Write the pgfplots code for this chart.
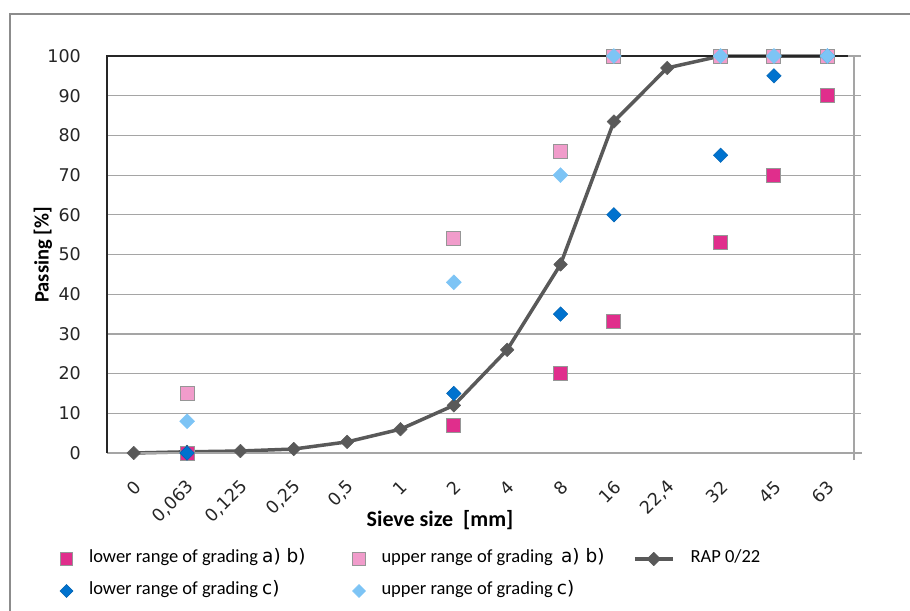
\documentclass[border=0pt]{standalone}
\usepackage{pgfplots}
\pgfplotsset{compat=1.18}
\usepackage{pgfplotstable}
\usepackage{fontspec}
\setmainfont{Carlito}
\newfontfamily\dejavu{DejaVu Sans}

\definecolor{cmag}{RGB}{224,46,140}
\definecolor{cpink}{RGB}{241,156,203}
\definecolor{cblue}{RGB}{0,114,206}
\definecolor{clblue}{RGB}{125,196,245}
\definecolor{crap}{RGB}{89,89,89}
\definecolor{cgrid}{RGB}{165,165,165}
\definecolor{cbord}{RGB}{150,150,150}
\definecolor{cframe}{RGB}{140,140,140}

\pgfdeclareplotmark{ediamond*}{%
  \pgfpathmoveto{\pgfqpoint{0pt}{\pgfplotmarksize}}%
  \pgfpathlineto{\pgfqpoint{\pgfplotmarksize}{0pt}}%
  \pgfpathlineto{\pgfqpoint{0pt}{-\pgfplotmarksize}}%
  \pgfpathlineto{\pgfqpoint{-\pgfplotmarksize}{0pt}}%
  \pgfpathclose
  \pgfusepathqfillstroke}

\pgfplotstableread{
x y
1 0
6 7
8 20
9 33
11 53
12 70
13 90
}\lowerab
\pgfplotstableread{
x y
1 15
6 54
8 76
9 100
11 100
12 100
13 100
}\upperab
\pgfplotstableread{
x y
1 0
6 15
8 35
9 60
11 75
12 95
13 100
}\lowerc
\pgfplotstableread{
x y
1 8
6 43
8 70
9 100
11 100
12 100
13 100
}\upperc
\pgfplotstableread{
x y
0 0
1 0.3
2 0.5
3 1
4 2.8
5 6
6 12
7 26
8 47.5
9 83.5
10 97
11 100
12 100
13 100
}\rap

\pgfplotsset{
  sqlegend/.style={legend image code/.code={\path[draw=none, fill=none] (-6bp,-6bp) rectangle (6bp,6bp);\draw[##1, mark size=6.2bp] plot coordinates {(0bp,0bp)};}},
  dmlegend/.style={legend image code/.code={\path[draw=none, fill=none] (-6bp,-6bp) rectangle (6bp,6bp);\draw[##1, mark size=6.5bp] plot coordinates {(0bp,0bp)};}},
  raplegend/.style={legend image code/.code={\draw[mark repeat=2,mark phase=2,##1] plot coordinates {(0bp,0bp) (19bp,0bp) (38bp,0bp)};}},
  rapstyle/.style={color=crap, line width=3.5bp, line join=round, mark=ediamond*, mark size=6.8bp, mark options={fill=crap, draw=crap, line width=0.5bp}},
}

\begin{document}
\begin{tikzpicture}
\useasboundingbox (0,0) rectangle (910bp,-611bp);
\draw[cframe, line width=1.3bp] (10bp,-612bp) -- (10bp,-14bp) -- (911bp,-14bp);
\begin{axis}[
  at={(107bp,-453bp)}, anchor=south west,
  scale only axis, width=747bp, height=397bp,
  xmin=-0.5, xmax=13.5, ymin=0, ymax=100,
  axis line style={draw=none},
  xtick={0,...,13},
  xticklabels={0,{0,063},{0,125},{0,25},{0,5},1,2,4,8,16,{22,4},32,45,63},
  minor xtick={-0.5,0.5,...,13.5},
  ytick={0,10,...,100},
  xtick pos=left, ytick pos=right, yticklabel pos=left,
  tick align=outside,
  major tick length=7bp, minor tick length=7bp,
  xtick style={draw=none},
  minor x tick style={cgrid, line width=1.2bp},
  y tick style={cgrid, line width=1.2bp},
  ymajorgrids,
  major grid style={cgrid, line width=1.2bp},
  /pgf/number format/assume math mode=true,
  ticklabel style={font=\dejavu\fontsize{17.5bp}{18bp}\selectfont, inner sep=0pt, text=black!85},
  yticklabel style={xshift=-19bp+0pt},
  xticklabel style={xshift=4bp, yshift=-24bp, rotate=45, anchor=east},
  xlabel={Sieve size\ \ [mm]},
  ylabel={Passing [\%]},
  every axis x label/.style={at={(axis description cs:0.4458,-0.1688)}, anchor=center, font=\bfseries\fontsize{22bp}{22bp}\selectfont},
  every axis y label/.style={at={(axis description cs:-0.0857,0.499)}, rotate=90, anchor=center, font=\bfseries\fontsize{20.5bp}{22bp}\selectfont},
  legend columns=3,
  legend cell align=left,
  legend style={draw=none, fill=none, inner sep=0pt, outer sep=0pt,
    at={(axis description cs:-0.0629,-0.2443)}, anchor=north west,
    font=\fontsize{18.5bp}{20bp}\selectfont,
    nodes={inner sep=0pt, text height=13bp, text depth=5bp},
    row sep=14bp,
    /tikz/every odd column/.append style={column sep=16bp},
    /tikz/every even column/.append style={column sep=13.5bp}},
  clip=false,
]
\addplot[rapstyle, forget plot] table[x=x,y=y] {\rap};
\addplot[only marks, mark=square*, mark size=7bp, mark options={fill=cmag, draw=cbord, line width=1bp}, sqlegend] table[x=x,y=y] {\lowerab};
\addlegendentry{\makebox[250bp][l]{lower range of grading {\dejavu a) b)}}}
\addplot[only marks, mark=square*, mark size=7bp, mark options={fill=cpink, draw=cbord, line width=1bp}, sqlegend] table[x=x,y=y] {\upperab};
\addlegendentry{\makebox[238bp][l]{upper range of grading\ \ {\dejavu a) b)}}}
\addlegendimage{rapstyle, raplegend}
\addlegendentry{RAP 0/22}
\addplot[only marks, mark=ediamond*, mark size=7.3bp, mark options={fill=cblue, draw=cblue!85!black, line width=0.4bp}, dmlegend] table[x=x,y=y] {\lowerc};
\addlegendentry{\makebox[250bp][l]{lower range of grading\ {\dejavu c)}}}
\addplot[only marks, mark=ediamond*, mark size=7.5bp, mark options={fill=clblue, draw=clblue, line width=0.4bp}, dmlegend] table[x=x,y=y] {\upperc};
\addlegendentry{\makebox[238bp][l]{upper range of grading {\dejavu c)}}}
\draw[cgrid, line width=1.3bp] (rel axis cs:0,0) -- ([xshift=8bp]rel axis cs:1,0);
\draw[cgrid, line width=1.3bp] ([yshift=-7bp]rel axis cs:1,0) -- (rel axis cs:1,1);
\draw[black!85, line width=1.3bp] (rel axis cs:0,0) -- (rel axis cs:0,1) -- (rel axis cs:0.992,1);
\end{axis}
\end{tikzpicture}
\end{document}
